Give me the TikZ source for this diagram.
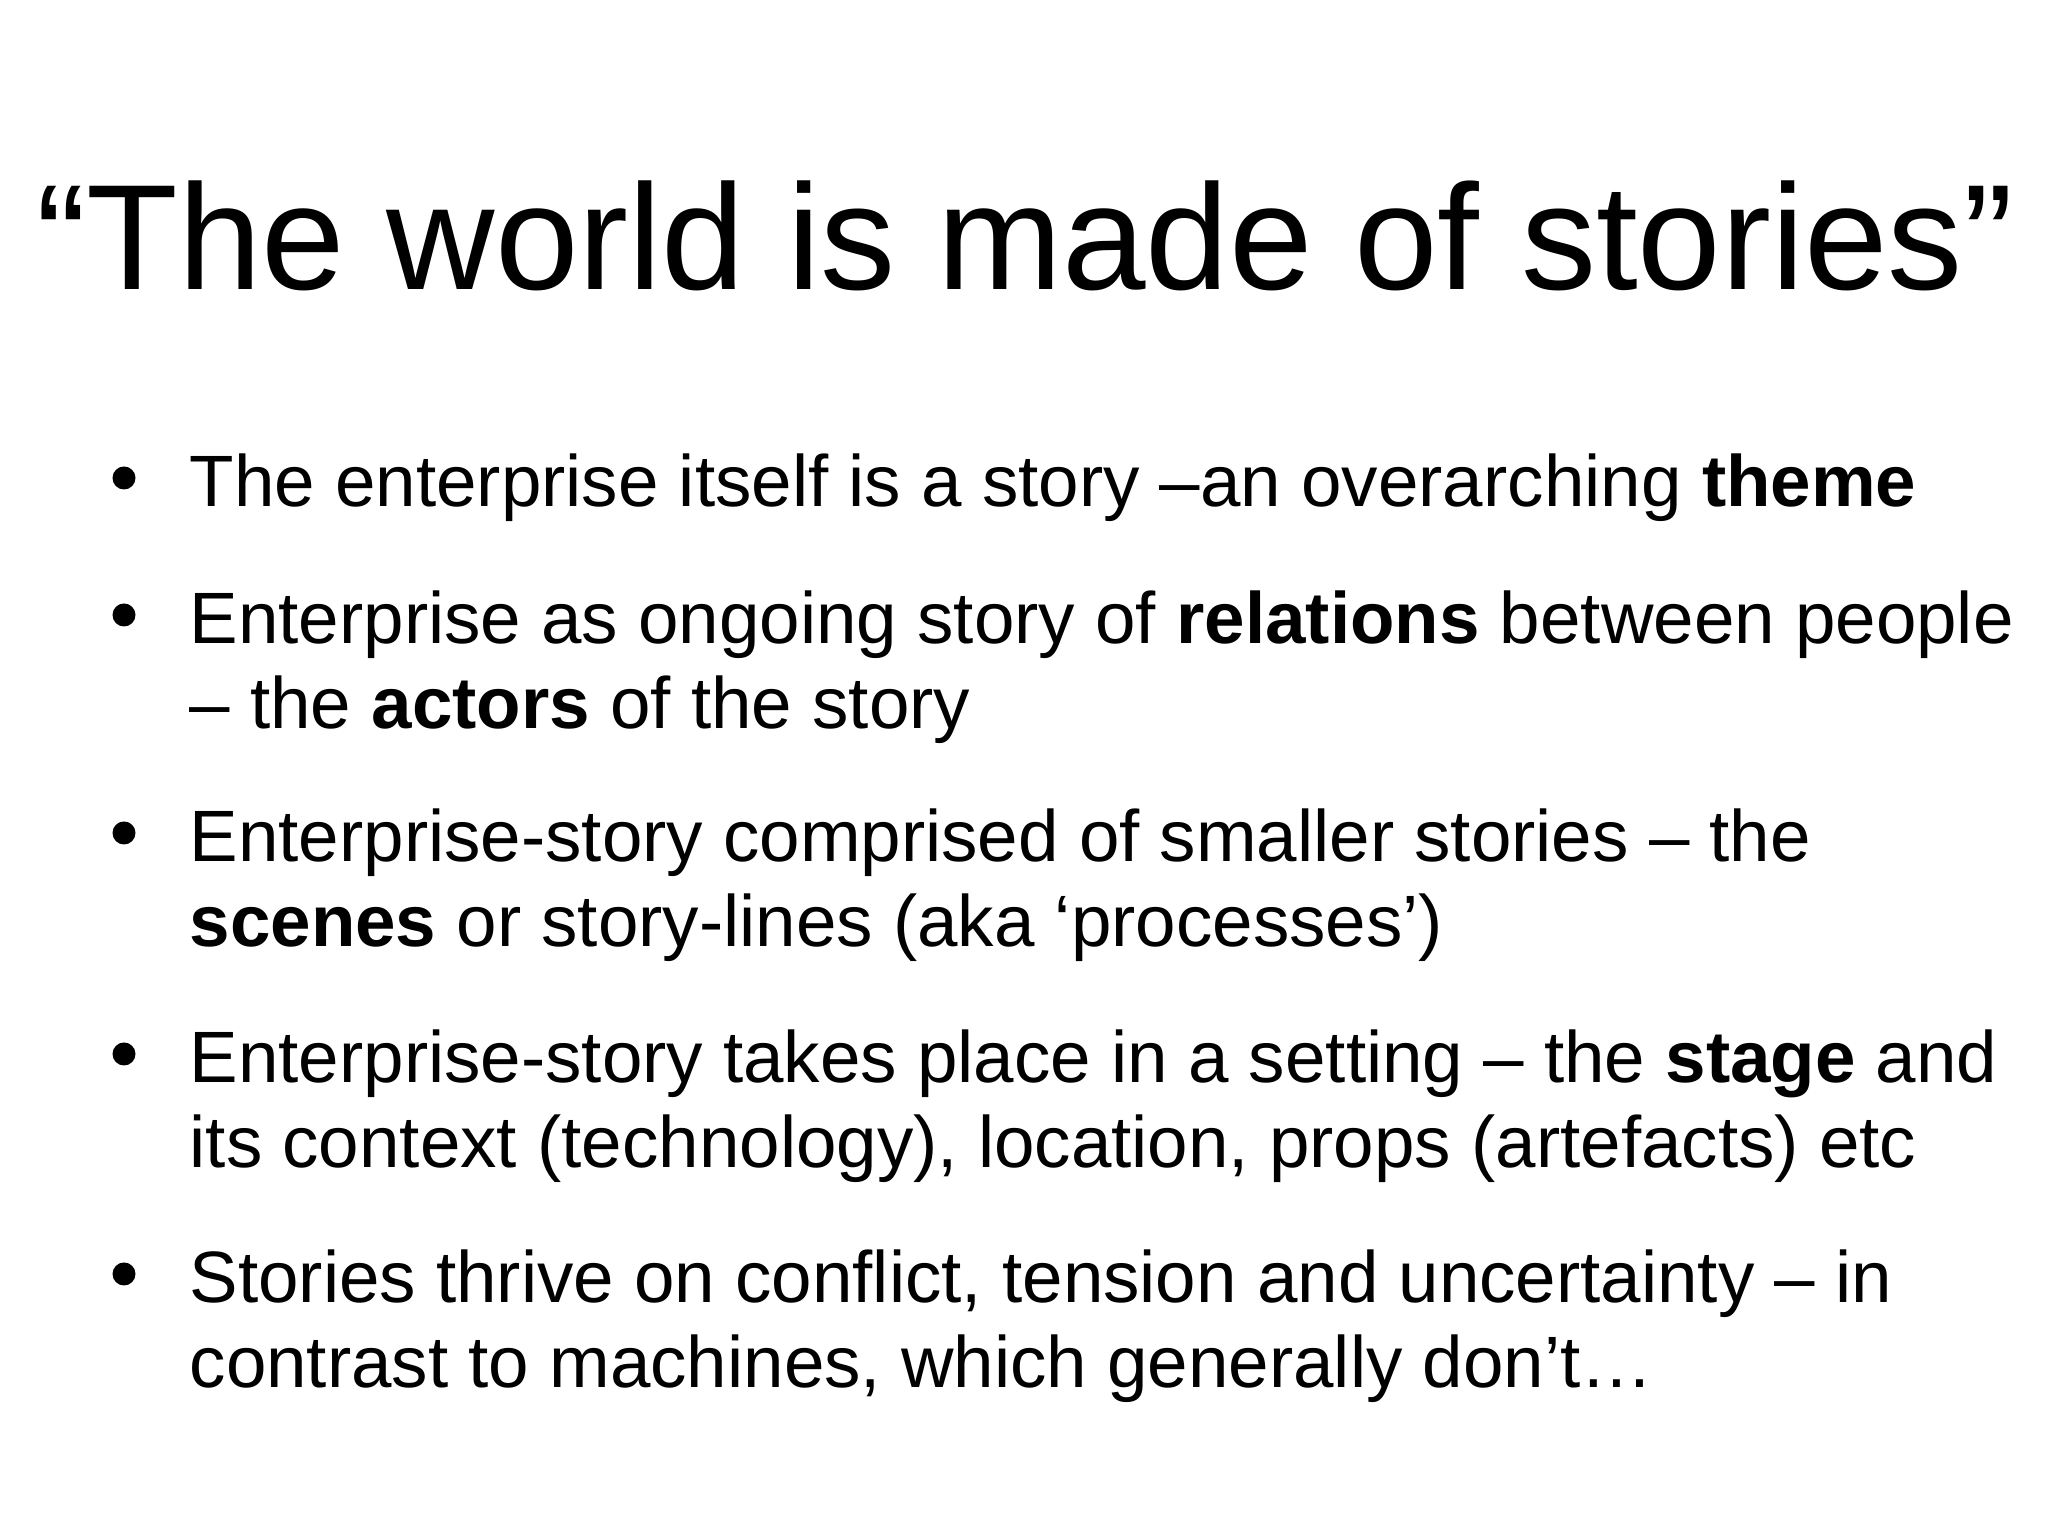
\documentclass[tikz,border=0pt]{standalone}
\usepackage{fontspec}
\setmainfont{Liberation Sans}
\begin{document}
\begin{tikzpicture}[x=1cm,y=1cm,
  ln/.style={anchor=base west,inner sep=0pt,font=\fontsize{20.7}{25}\selectfont},
  bul/.style={circle,fill=black,inner sep=0pt,minimum size=0.23cm}]
\useasboundingbox (0,0) rectangle (20.48,15.36);
\node[anchor=base,inner sep=0pt,font=\fontsize{42.7}{50}\selectfont] (title) at (10.25,12.46) {“The world is made of stories”};
\foreach \n/\y in {1/10.29,2/8.92,3/6.74,4/4.53,5/2.33}{
  \node[bul] (b\n) at (1.24,\y+0.29) {};
}
\node[ln] (l1) at (1.89,10.29) {The enterprise itself is a story –an overarching \textbf{theme}};
\node[ln] (l2) at (1.89,8.92) {Enterprise as ongoing story of \textbf{relations} between people};
\node[ln] (l2b) at (1.89,8.07) {– the \textbf{actors} of the story};
\node[ln] (l3) at (1.89,6.74) {Enterprise-story comprised of smaller stories – the};
\node[ln] (l3b) at (1.89,5.89) {\textbf{scenes} or story-lines (aka ‘processes’)};
\node[ln] (l4) at (1.89,4.53) {Enterprise-story takes place in a setting – the \textbf{stage} and};
\node[ln] (l4b) at (1.89,3.68) {its context (technology), location, props (artefacts) etc};
\node[ln] (l5) at (1.89,2.33) {Stories thrive on conflict, tension and uncertainty – in};
\node[ln] (l5b) at (1.89,1.48) {contrast to machines, which generally don’t…};
\end{tikzpicture}
\end{document}
